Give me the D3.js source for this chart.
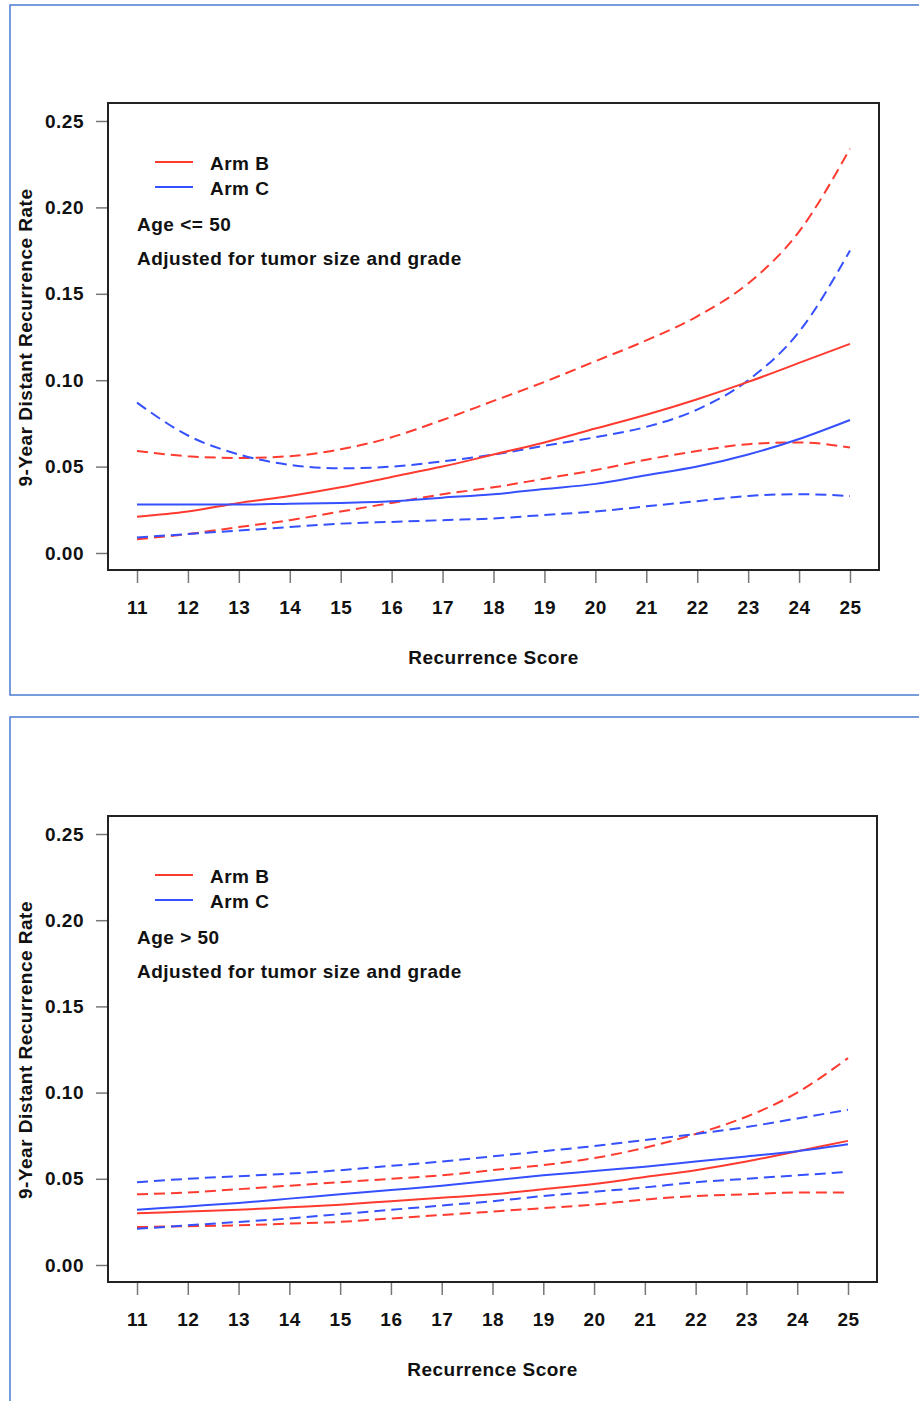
<!DOCTYPE html>
<html>
<head>
<meta charset="utf-8">
<script src="https://cdn.jsdelivr.net/npm/d3@7"></script>
<style>
  body { margin: 0; background: #fff; }
  text { font-family: "Liberation Sans", Arial, sans-serif; font-weight: bold; fill: #111; letter-spacing: 0.5px; }
</style>
</head>
<body>
<svg id="chart" width="919" height="1401"></svg>
<script>
const scores = [11, 12, 13, 14, 15, 16, 17, 18, 19, 20, 21, 22, 23, 24, 25];
const yTicks = [0, 0.05, 0.10, 0.15, 0.20, 0.25];

// Age <= 50
const youngArmB      = [0.021, 0.024, 0.029, 0.033, 0.038, 0.044, 0.050, 0.057, 0.064, 0.072, 0.080, 0.089, 0.099, 0.110, 0.121];
const youngArmBUpper = [0.059, 0.056, 0.055, 0.056, 0.060, 0.067, 0.077, 0.088, 0.099, 0.111, 0.123, 0.137, 0.156, 0.186, 0.234];
const youngArmBLower = [0.008, 0.011, 0.015, 0.019, 0.024, 0.029, 0.034, 0.038, 0.043, 0.048, 0.054, 0.059, 0.063, 0.064, 0.061];
const youngArmC      = [0.028, 0.028, 0.028, 0.0285, 0.029, 0.030, 0.032, 0.034, 0.037, 0.040, 0.045, 0.050, 0.057, 0.066, 0.077];
const youngArmCUpper = [0.087, 0.068, 0.057, 0.051, 0.049, 0.050, 0.053, 0.057, 0.062, 0.067, 0.073, 0.083, 0.100, 0.128, 0.175];
const youngArmCLower = [0.009, 0.011, 0.013, 0.015, 0.017, 0.018, 0.019, 0.020, 0.022, 0.024, 0.027, 0.030, 0.033, 0.034, 0.033];

// Age > 50
const oldArmB      = [0.030, 0.031, 0.032, 0.0335, 0.035, 0.037, 0.039, 0.041, 0.044, 0.047, 0.051, 0.055, 0.060, 0.066, 0.072];
const oldArmBUpper = [0.041, 0.042, 0.044, 0.046, 0.048, 0.050, 0.052, 0.055, 0.058, 0.062, 0.068, 0.076, 0.086, 0.100, 0.120];
const oldArmBLower = [0.022, 0.0225, 0.023, 0.024, 0.025, 0.027, 0.029, 0.031, 0.033, 0.035, 0.038, 0.040, 0.041, 0.042, 0.042];
const oldArmC      = [0.032, 0.034, 0.036, 0.0385, 0.041, 0.0435, 0.046, 0.049, 0.052, 0.0545, 0.057, 0.060, 0.063, 0.066, 0.070];
const oldArmCUpper = [0.048, 0.050, 0.0515, 0.053, 0.055, 0.0575, 0.060, 0.063, 0.066, 0.069, 0.0725, 0.076, 0.080, 0.085, 0.090];
const oldArmCLower = [0.021, 0.023, 0.025, 0.027, 0.0295, 0.032, 0.0345, 0.037, 0.040, 0.0425, 0.045, 0.048, 0.050, 0.052, 0.054];

const RED = '#ff3b30';
const BLUE = '#3550ff';

const panels = [
  {
    top: 5, frameH: 690, box: [108, 103, 879, 570], label: 'Age <= 50',
    series: [
      { values: youngArmBUpper, color: RED, dashed: true },
      { values: youngArmBLower, color: RED, dashed: true },
      { values: youngArmCUpper, color: BLUE, dashed: true },
      { values: youngArmCLower, color: BLUE, dashed: true },
      { values: youngArmB, color: RED },
      { values: youngArmC, color: BLUE },
    ],
  },
  {
    top: 717, frameH: 700, box: [108, 816, 877, 1282], label: 'Age > 50',
    series: [
      { values: oldArmBUpper, color: RED, dashed: true },
      { values: oldArmBLower, color: RED, dashed: true },
      { values: oldArmCUpper, color: BLUE, dashed: true },
      { values: oldArmCLower, color: BLUE, dashed: true },
      { values: oldArmB, color: RED },
      { values: oldArmC, color: BLUE },
    ],
  },
];

const svg = d3.select('#chart');

const drawPanel = (panel) => {
  const [left, top, right, bottom] = panel.box;

  svg.append('rect')
    .attr('x', 10).attr('y', panel.top)
    .attr('width', 940).attr('height', panel.frameH)
    .attr('fill', 'none')
    .attr('stroke', '#4b7bd0')
    .attr('stroke-width', 1.5);

  // R pads the range by 4%, so 11..25 sits inside the box
  const x = d3.scaleLinear()
    .domain([11, 25])
    .range([left + 29, right - 29]);
  const y = d3.scaleLinear()
    .domain([0, 0.25])
    .range([bottom - 17, top + 18]);

  const g = svg.append('g');

  const yAxis = g.append('g')
    .attr('transform', `translate(${left},0)`)
    .call(d3.axisLeft(y).tickValues(yTicks).tickFormat(d3.format('.2f')).tickSize(12).tickPadding(12));
  const xAxis = g.append('g')
    .attr('transform', `translate(0,${bottom})`)
    .call(d3.axisBottom(x).tickValues(scores).tickFormat(d3.format('d')).tickSize(13).tickPadding(18));

  [yAxis, xAxis].forEach(axis => {
    axis.select('.domain').remove();
    axis.selectAll('.tick line').attr('stroke', '#777').attr('stroke-width', 1.5);
    axis.selectAll('.tick text')
      .attr('font-size', 19)
      .attr('font-family', '"Liberation Sans", Arial, sans-serif')
      .attr('font-weight', 'bold')
      .attr('fill', '#111');
  });

  const line = d3.line()
    .x((d, i) => x(scores[i]))
    .y(d => y(d))
    .curve(d3.curveMonotoneX);

  g.selectAll('.series')
    .data(panel.series)
    .join('path')
    .attr('class', 'series')
    .attr('fill', 'none')
    .attr('stroke', d => d.color)
    .attr('stroke-width', 2)
    .attr('stroke-dasharray', d => d.dashed ? '11,6' : null)
    .attr('d', d => line(d.values));

  g.append('rect')
    .attr('x', left).attr('y', top)
    .attr('width', right - left).attr('height', bottom - top)
    .attr('fill', 'none')
    .attr('stroke', '#222')
    .attr('stroke-width', 2);

  // legend
  const legend = g.append('g').attr('transform', `translate(${left},${top})`);
  [['Arm B', RED], ['Arm C', BLUE]].forEach(([name, color], i) => {
    legend.append('line')
      .attr('x1', 47).attr('x2', 85)
      .attr('y1', 59 + i * 25).attr('y2', 59 + i * 25)
      .attr('stroke', color).attr('stroke-width', 2);
    legend.append('text')
      .attr('x', 102).attr('y', 60 + i * 25)
      .attr('dy', '0.35em')
      .attr('font-size', 19)
      .text(name);
  });
  legend.append('text')
    .attr('x', 29).attr('y', 121).attr('dy', '0.35em')
    .attr('font-size', 19)
    .text(panel.label);
  legend.append('text')
    .attr('x', 29).attr('y', 155).attr('dy', '0.35em')
    .attr('font-size', 19)
    .text('Adjusted for tumor size and grade');

  g.append('text')
    .attr('x', (left + right) / 2)
    .attr('y', bottom + 87)
    .attr('dy', '0.35em')
    .attr('text-anchor', 'middle')
    .attr('font-size', 19)
    .text('Recurrence Score');

  g.append('text')
    .attr('transform', `translate(25,${(top + bottom) / 2 + 1}) rotate(-90)`)
    .attr('dy', '0.35em')
    .attr('text-anchor', 'middle')
    .attr('font-size', 19)
    .attr('letter-spacing', '0.6px')
    .text('9-Year Distant Recurrence Rate');
};

panels.forEach(drawPanel);
</script>
</body>
</html>
